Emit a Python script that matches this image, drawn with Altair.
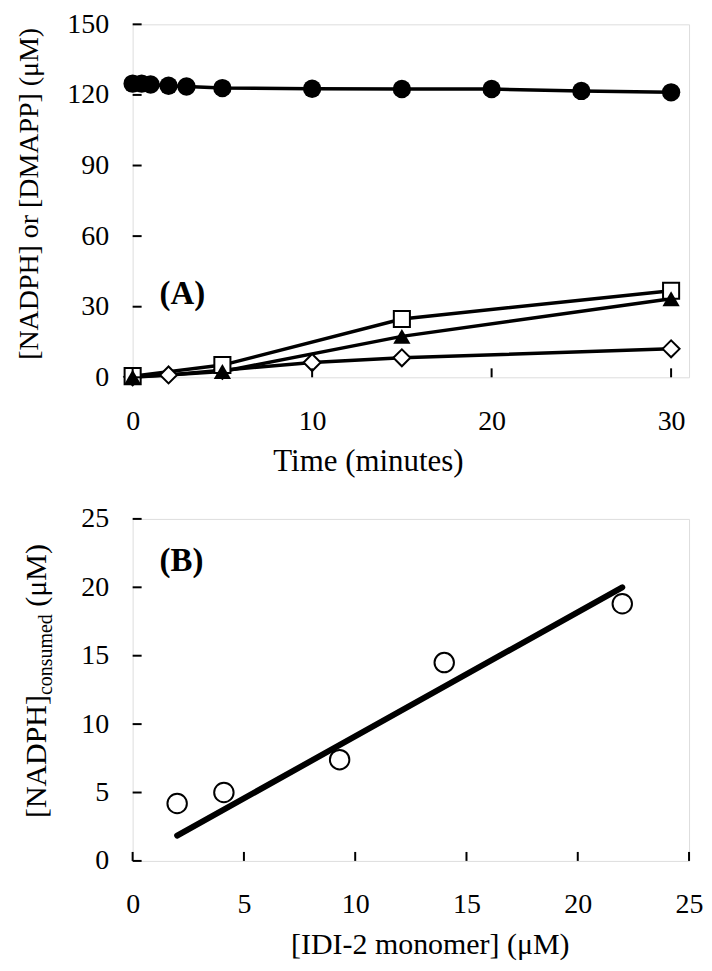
import altair as alt
import pandas as pd

FONT = "Liberation Serif"

# ---------------- Panel A data ----------------
t_circle = [0, 0.5, 1, 2, 3, 5, 10, 15, 20, 25, 30]
v_circle = [124.8, 124.8, 124.4, 123.9, 123.6, 122.9, 122.6, 122.5, 122.5, 121.7, 121.1]
t_square = [0, 5, 15, 30]
v_square = [0.5, 5.2, 24.8, 36.8]
t_triangle = [0, 5, 15, 30]
v_triangle = [0.0, 2.5, 17.4, 33.4]
t_diamond = [0, 2, 5, 10, 15, 30]
v_diamond = [0.2, 1.0, 3.0, 6.3, 8.3, 12.1]

xticks_A = [0, 10, 20, 30]
yticks_A = [0, 30, 60, 90, 120, 150]

# ---------------- Panel B data ----------------
idi_monomer = [2.0, 4.1, 9.3, 14.0, 22.0]
nadph_consumed = [4.2, 5.0, 7.4, 14.5, 18.8]
fit_x = [2.0, 22.0]
fit_y = [1.85, 20.0]

ticks_B = [0, 5, 10, 15, 20, 25]


def mk(ts, vs, name):
    return pd.DataFrame({"t": ts, "v": vs, "s": [name] * len(ts)})


dfA = pd.concat([
    mk(t_circle, v_circle, "circle"),
    mk(t_square, v_square, "square"),
    mk(t_triangle, v_triangle, "triangle"),
    mk(t_diamond, v_diamond, "diamond"),
], ignore_index=True)

TICK = 9
HA = 354
HB = 343
W = 558


def x_axis(values, title, title_x, tsize):
    return alt.Axis(values=values, domain=False, ticks=False, labelPadding=30,
                    labelFont=FONT, labelFontSize=28, labelColor="black",
                    labelFlush=False, labelOverlap=False, grid=False,
                    title=title, titleFont=FONT, titleFontSize=tsize,
                    titleFontWeight="normal", titleColor="black", titlePadding=11,
                    titleX=title_x)


def y_axis(values):
    return alt.Axis(values=values, domain=False, ticks=False, labelPadding=24,
                    labelFont=FONT, labelFontSize=28, labelColor="black",
                    labelFlush=False, labelOverlap=False, grid=False, title=None)


# ---------------- Panel A ----------------
scAx = alt.Scale(domain=[0, 31], nice=False, zero=False)
scAy = alt.Scale(domain=[0, 150], nice=False)
xA = alt.X("t:Q", scale=scAx, axis=x_axis(xticks_A, "Time (minutes)", 236, 31))
yA = alt.Y("v:Q", scale=scAy, axis=y_axis(yticks_A))

baseA = alt.Chart(dfA).encode(x=xA, y=yA)

linesA = baseA.mark_line(color="black", strokeWidth=3.5).encode(detail="s:N")

diamonds = baseA.transform_filter(alt.datum.s == "diamond").mark_point(
    shape="diamond", size=290, fill="white", stroke="black", strokeWidth=2,
    opacity=1, fillOpacity=1)
squares = baseA.transform_filter(alt.datum.s == "square").mark_point(
    shape="square", size=260, fill="white", stroke="black", strokeWidth=2,
    opacity=1, fillOpacity=1)
triangles = baseA.transform_filter(alt.datum.s == "triangle").mark_point(
    shape="triangle-up", size=300, filled=True, color="black", opacity=1)
circles = baseA.transform_filter(alt.datum.s == "circle").mark_point(
    shape="circle", size=340, filled=True, color="black", opacity=1)

# inside tick marks (positions come from the scales)
ytickA = alt.Chart(pd.DataFrame({"v": yticks_A})).mark_rule(
    color="black", strokeWidth=2).encode(
    y=alt.Y("v:Q", scale=scAy), x=alt.value(0), x2=alt.value(TICK))
xtickA = alt.Chart(pd.DataFrame({"t": xticks_A})).mark_rule(
    color="black", strokeWidth=2).encode(
    x=alt.X("t:Q", scale=scAx), y=alt.value(HA - TICK), y2=alt.value(HA))

labelA = alt.Chart(pd.DataFrame({"txt": ["(A)"]})).mark_text(
    font=FONT, fontSize=33, fontWeight="bold", align="left", baseline="middle",
    color="black").encode(text="txt:N", x=alt.value(27), y=alt.value(270))

ytitleA = alt.Chart(pd.DataFrame({"txt": ["[NADPH] or [DMAPP] (\u03bcM)"]})).mark_text(
    font=FONT, fontSize=28, angle=270, align="center", baseline="alphabetic",
    color="black").encode(text="txt:N", x=alt.value(-95), y=alt.value(170))

panelA = alt.layer(linesA, diamonds, squares, triangles, circles,
                   ytickA, xtickA, labelA, ytitleA).properties(width=W, height=HA)

# ---------------- Panel B ----------------
dfB = pd.DataFrame({"x": idi_monomer, "y": nadph_consumed})
dfFit = pd.DataFrame({"x": fit_x, "y": fit_y})

scBx = alt.Scale(domain=[0, 25], nice=False)
scBy = alt.Scale(domain=[0, 25], nice=False)
xB = alt.X("x:Q", scale=scBx, axis=x_axis(ticks_B, "[IDI-2 monomer] (\u03bcM)", 298, 30))
yB = alt.Y("y:Q", scale=scBy, axis=y_axis(ticks_B))

fitB = alt.Chart(dfFit).mark_line(color="black", strokeWidth=6, strokeCap="round").encode(x=xB, y=yB)
ptsB = alt.Chart(dfB).mark_point(shape="circle", size=380, fill="white", stroke="black",
                                 strokeWidth=2, opacity=1, fillOpacity=1).encode(x=xB, y=yB)

ytickB = alt.Chart(pd.DataFrame({"y": ticks_B})).mark_rule(
    color="black", strokeWidth=2).encode(
    y=alt.Y("y:Q", scale=scBy), x=alt.value(0), x2=alt.value(TICK))
xtickB = alt.Chart(pd.DataFrame({"x": ticks_B})).mark_rule(
    color="black", strokeWidth=2).encode(
    x=alt.X("x:Q", scale=scBx), y=alt.value(HB - TICK), y2=alt.value(HB))

labelB = alt.Chart(pd.DataFrame({"txt": ["(B)"]})).mark_text(
    font=FONT, fontSize=33, fontWeight="bold", align="left", baseline="middle",
    color="black").encode(text="txt:N", x=alt.value(27), y=alt.value(42))

yt_main = alt.Chart(pd.DataFrame({"txt": ["[NADPH]"]})).mark_text(
    font=FONT, fontSize=30, angle=270, align="left", baseline="alphabetic",
    color="black").encode(text="txt:N", x=alt.value(-87), y=alt.value(300))
yt_sub = alt.Chart(pd.DataFrame({"txt": ["consumed"]})).mark_text(
    font=FONT, fontSize=20, angle=270, align="left", baseline="alphabetic",
    color="black").encode(text="txt:N", x=alt.value(-81), y=alt.value(176.7))
yt_unit = alt.Chart(pd.DataFrame({"txt": ["(\u03bcM)"]})).mark_text(
    font=FONT, fontSize=30, angle=270, align="left", baseline="alphabetic",
    color="black").encode(text="txt:N", x=alt.value(-87), y=alt.value(88))

panelB = alt.layer(fitB, ptsB, ytickB, xtickB, labelB, yt_main, yt_sub, yt_unit).properties(
    width=W, height=HB)

chart = alt.vconcat(panelA, panelB, spacing=27).properties(
    padding={"left": 7, "top": 0, "right": 0, "bottom": 0}
).configure_view(
    stroke="black", strokeWidth=2
).configure_axis(
    labelFont=FONT, titleFont=FONT, labelColor="black", titleColor="black"
).configure_text(font=FONT).configure(background="white")

chart.save("out.html", embed_options={"renderer": "svg", "actions": False})
